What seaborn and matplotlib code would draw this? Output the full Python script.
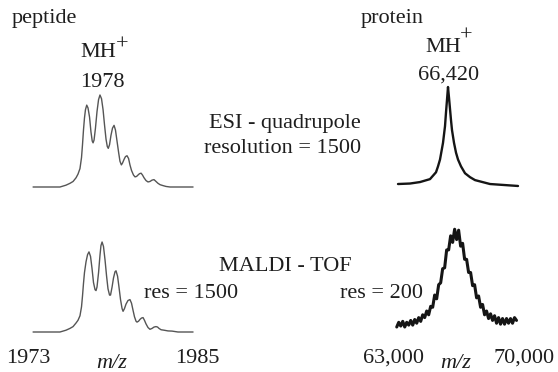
import numpy as np
import pandas as pd
import matplotlib
matplotlib.use("Agg")
import matplotlib.pyplot as plt
import seaborn as sns

sns.set_style("white")
plt.rcParams['font.family'] = ['Liberation Serif', 'DejaVu Serif']

# ---------------- data ----------------
# peptide, ESI-quadrupole (m/z, relative intensity)
pep_esi_mz = [1973.36, 1975.27, 1975.70, 1975.98, 1976.20, 1976.41, 1976.55, 1976.69,
              1976.80, 1976.87, 1976.94, 1977.01, 1977.08, 1977.17, 1977.26, 1977.37,
              1977.47, 1977.56, 1977.62, 1977.69, 1977.79, 1977.90, 1978.01, 1978.11,
              1978.22, 1978.33, 1978.43, 1978.54, 1978.63, 1978.70, 1978.79, 1978.89,
              1979.00, 1979.11, 1979.21, 1979.32, 1979.43, 1979.53, 1979.63, 1979.71,
              1979.82, 1979.92, 1980.03, 1980.14, 1980.24, 1980.35, 1980.49, 1980.60,
              1980.71, 1980.81, 1980.92, 1981.03, 1981.13, 1981.24, 1981.38, 1981.52,
              1981.66, 1981.81, 1981.95, 1982.09, 1982.23, 1982.38, 1982.59, 1982.80,
              1983.09, 1984.72]
pep_esi_int = [0.0, 0.0, 0.02, 0.04, 0.06, 0.10, 0.14, 0.20,
               0.32, 0.46, 0.62, 0.75, 0.84, 0.89, 0.86, 0.76,
               0.60, 0.50, 0.48, 0.51, 0.64, 0.82, 0.95, 1.0,
               0.96, 0.84, 0.68, 0.52, 0.44, 0.42, 0.46, 0.56,
               0.64, 0.67, 0.62, 0.50, 0.38, 0.28, 0.24, 0.26,
               0.30, 0.33, 0.34, 0.31, 0.24, 0.18, 0.13, 0.11,
               0.115, 0.13, 0.145, 0.15, 0.13, 0.10, 0.07, 0.055,
               0.06, 0.075, 0.08, 0.06, 0.04, 0.025, 0.015, 0.006,
               0.0, 0.0]

# peptide, MALDI-TOF
pep_maldi_mz = [1973.36, 1975.27, 1975.70, 1975.98, 1976.20, 1976.41, 1976.55, 1976.69,
                1976.80, 1976.87, 1976.94, 1977.01, 1977.12, 1977.23, 1977.33, 1977.44,
                1977.55, 1977.65, 1977.76, 1977.83, 1977.90, 1978.01, 1978.11, 1978.18,
                1978.26, 1978.36, 1978.47, 1978.58, 1978.68, 1978.79, 1978.86, 1978.97,
                1979.07, 1979.18, 1979.25, 1979.36, 1979.46, 1979.57, 1979.68, 1979.75,
                1979.85, 1979.96, 1980.10, 1980.24, 1980.35, 1980.46, 1980.56, 1980.67,
                1980.74, 1980.85, 1980.95, 1981.06, 1981.17, 1981.27, 1981.38, 1981.52,
                1981.66, 1981.81, 1981.95, 1982.09, 1982.20, 1982.30, 1982.45, 1982.66,
                1982.94, 1983.23, 1983.65, 1984.72]
pep_maldi_int = [0.0, 0.0, 0.02, 0.04, 0.06, 0.10, 0.13, 0.18,
                 0.28, 0.40, 0.54, 0.66, 0.78, 0.86, 0.89, 0.84,
                 0.70, 0.55, 0.47, 0.46, 0.50, 0.66, 0.85, 0.96,
                 1.0, 0.95, 0.80, 0.62, 0.48, 0.41, 0.41, 0.50,
                 0.60, 0.67, 0.68, 0.62, 0.50, 0.36, 0.26, 0.23,
                 0.26, 0.31, 0.35, 0.36, 0.32, 0.24, 0.17, 0.12,
                 0.11, 0.12, 0.14, 0.155, 0.16, 0.13, 0.09, 0.05,
                 0.03, 0.04, 0.055, 0.06, 0.055, 0.04, 0.025, 0.02,
                 0.012, 0.01, 0.0, 0.0]

# protein, ESI-quadrupole
prot_esi_mz = [63267, 63908, 64443, 64977, 65298, 65405, 65512, 65672, 65779, 65832,
               65886, 65939, 65993, 66100, 66153, 66260, 66367, 66474, 66634, 66848,
               67115, 67382, 68184, 69680]
prot_esi_int = [0.01, 0.015, 0.03, 0.06, 0.13, 0.19, 0.26, 0.43, 0.60, 0.74,
                0.87, 1.0, 0.89, 0.66, 0.56, 0.43, 0.33, 0.26, 0.19, 0.12,
                0.08, 0.05, 0.01, -0.01]

# protein, MALDI-TOF (noisy trace, sampled on the instrument grid)
prot_maldi_mz = np.linspace(63200, 69600, 61)
prot_maldi_int = [0.00, 0.05, 0.01, 0.06, 0.00, 0.05, 0.02, 0.07, 0.02, 0.08,
                  0.04, 0.10, 0.06, 0.13, 0.10, 0.17, 0.13, 0.22, 0.21, 0.34,
                  0.30, 0.45, 0.47, 0.62, 0.63, 0.82, 0.82, 0.97, 0.90, 1.04,
                  0.93, 1.03, 0.86, 0.89, 0.72, 0.72, 0.58, 0.58, 0.44, 0.45,
                  0.31, 0.33, 0.21, 0.24, 0.13, 0.17, 0.09, 0.14, 0.07, 0.12,
                  0.04, 0.10, 0.03, 0.09, 0.03, 0.09, 0.04, 0.09, 0.04, 0.10,
                  0.07]

pep_ticks = [1973, 1985]
pep_tick_labels = ["1973", "1985"]
prot_ticks = [63000, 70000]
prot_tick_labels = ["63,000", "70,000"]

# ---------------- figure ----------------
W, H = 558, 372
fig = plt.figure(figsize=(W / 100, H / 100), dpi=100)
fig.patch.set_facecolor("white")

def make_ax(xa, xb, yb, yt, xlim):
    ax = fig.add_axes([xa / W, 1 - yb / H, (xb - xa) / W, (yb - yt) / H])
    ax.set_xlim(*xlim)
    ax.set_ylim(0, 1)
    ax.axis("off")
    return ax

ax1 = make_ax(28, 197, 187, 95, (1973, 1985))
ax2 = make_ax(28, 197, 332, 242, (1973, 1985))
ax3 = make_ax(393, 524, 185, 87, (63000, 70000))
ax4 = make_ax(393, 524, 327, 233, (63000, 70000))

def draw(ax, x, y, color, lw):
    df = pd.DataFrame({"mz": x, "intensity": y})
    sns.lineplot(data=df, x="mz", y="intensity", ax=ax, sort=False,
                 estimator=None, color=color, linewidth=lw)
    for l in ax.lines:
        l.set_clip_on(False)
        l.set_solid_joinstyle("round")
    ax.axis("off")

draw(ax1, pep_esi_mz, pep_esi_int, "#555555", 1.0)
draw(ax2, pep_maldi_mz, pep_maldi_int, "#555555", 1.0)
draw(ax3, prot_esi_mz, prot_esi_int, "#151515", 1.7)
draw(ax4, prot_maldi_mz, prot_maldi_int, "#151515", 2.2)

TC = "#1e1e1e"
FS = 16

def txt(x, y, s, ha="left", fs=FS, **kw):
    fig.text(x / W, 1 - y / H, s, ha=ha, va="baseline", fontsize=fs, color=TC, **kw)

txt(12, 23, "peptide")
txt(361, 23, "protein")
txt(80, 57, "MH")
txt(116, 50, "+", fs=16)
txt(80, 87, "1978")
txt(425, 52, "MH")
txt(460, 41, "+", fs=16)
txt(418, 80, "66,420")
txt(285, 128, "ESI - quadrupole", ha="center")
txt(283, 153, "resolution = 1500", ha="center")
txt(285, 271, "MALDI - TOF", ha="center")
txt(238, 298, "res = 1500", ha="right")
txt(340, 298, "res = 200", ha="left")

# tick labels placed from the axes' scales
for ax, ticks, labels in [(ax2, pep_ticks, pep_tick_labels), (ax4, prot_ticks, prot_tick_labels)]:
    for t, lab in zip(ticks, labels):
        xpx = ax.transData.transform((t, 0))[0]
        fig.text(xpx / fig.bbox.width, 1 - 363 / H, lab, ha="center", va="baseline",
                 fontsize=FS, color=TC)

txt(112, 368, "m/z", ha="center", style="italic")
txt(456, 368, "m/z", ha="center", style="italic")

fig.savefig("out.png", dpi=100, facecolor="white")
